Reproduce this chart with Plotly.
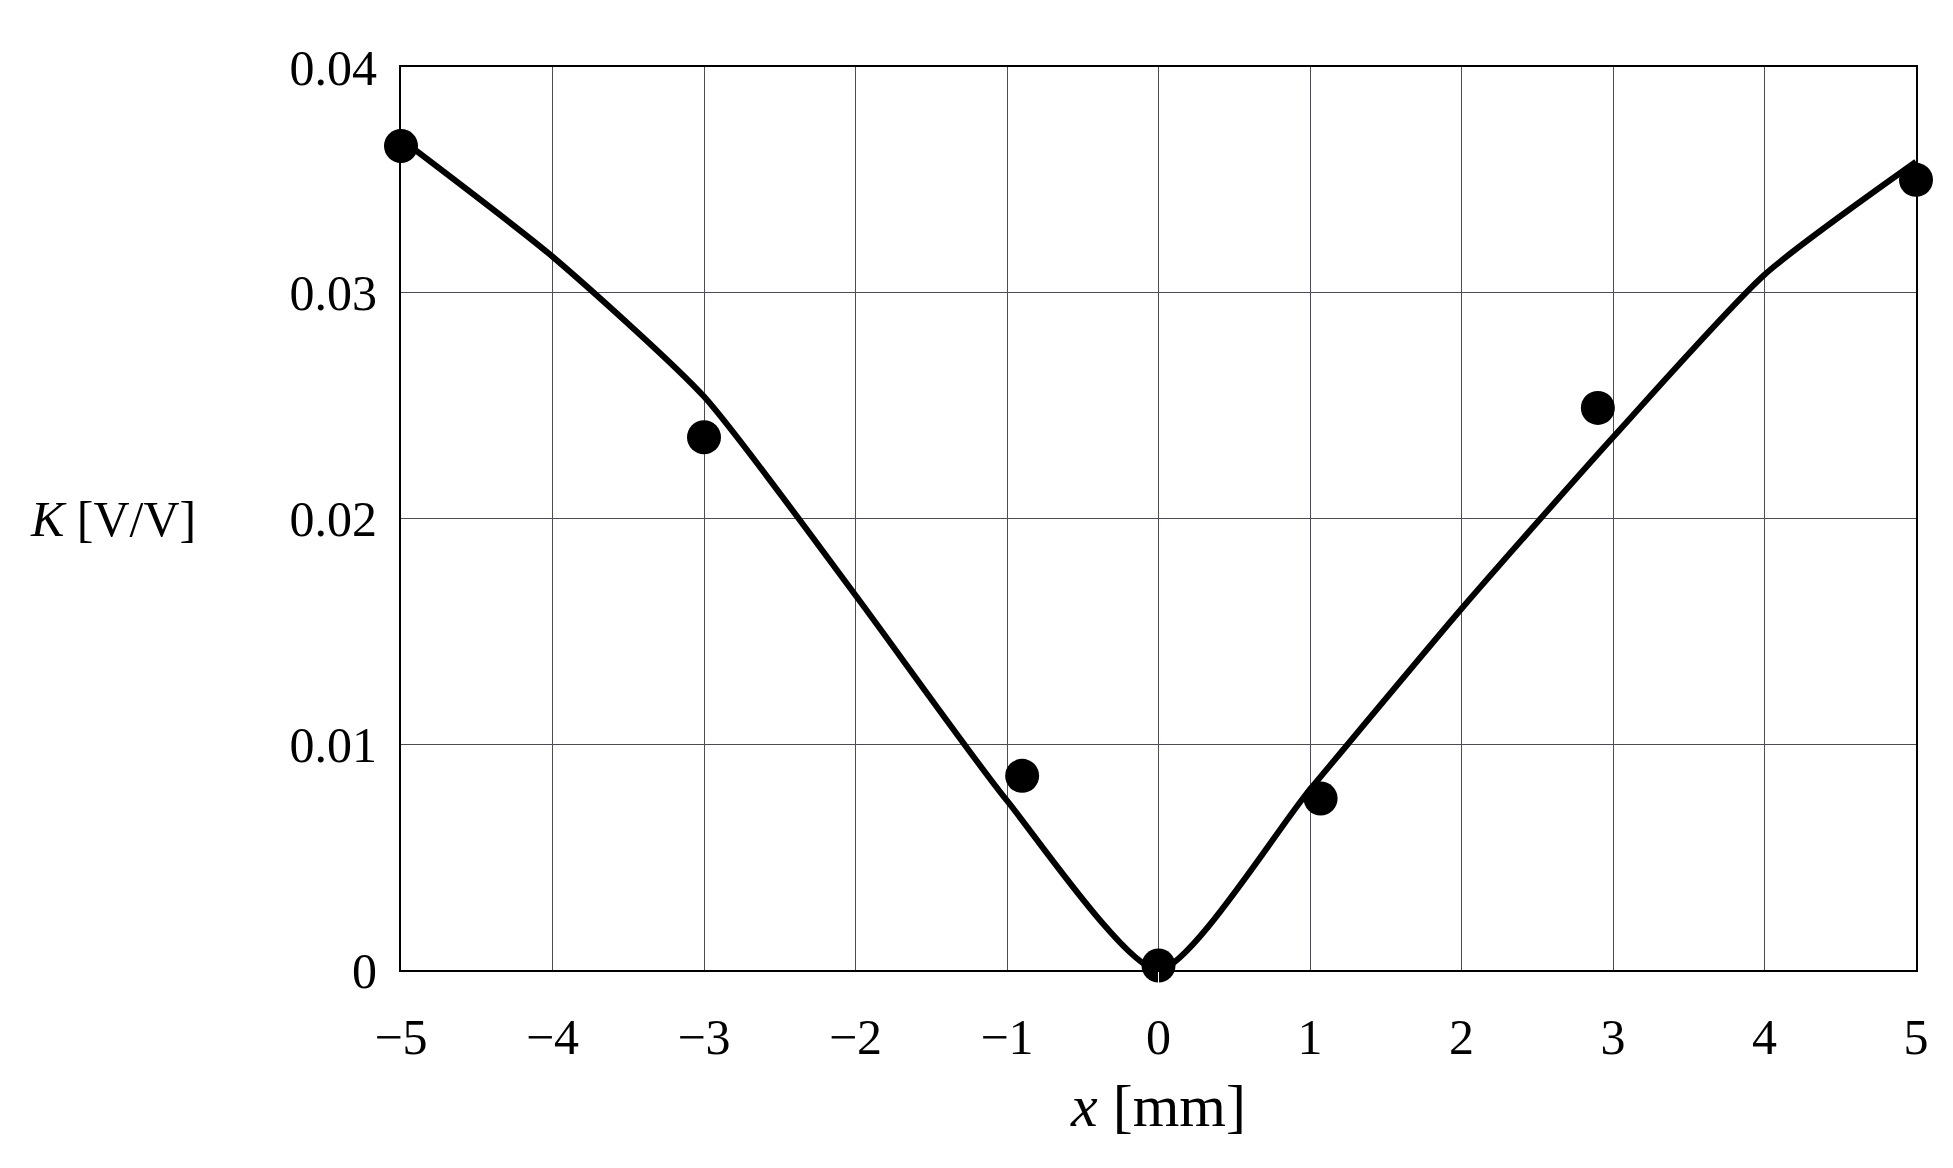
import plotly.graph_objects as go

# measured points
x_pts = [-5, -3, -0.9, 0, 1.07, 2.9, 5]
k_pts = [0.0365, 0.0236, 0.0086, 0.0002, 0.0076, 0.0249, 0.0350]

# fitted curve
x_fit = [-5, -4, -3, -2, -1, 0, 1, 2, 3, 4, 5]
k_fit = [0.0368, 0.0316, 0.0254, 0.0166, 0.0075, 0.0, 0.0080, 0.0160, 0.0236, 0.0308, 0.0358]

font = dict(family="Liberation Serif, DejaVu Serif, serif", size=50, color="black")

fig = go.Figure()
fig.add_trace(go.Scatter(x=x_fit, y=k_fit, mode='lines',
                         line=dict(color='black', width=6, shape='spline', smoothing=0.6),
                         showlegend=False))
fig.add_trace(go.Scatter(x=x_pts, y=k_pts, mode='markers',
                         marker=dict(color='black', size=34), showlegend=False,
                         cliponaxis=False))

fig.update_layout(
    width=1953, height=1168,
    plot_bgcolor='white', paper_bgcolor='white',
    font=font,
    margin=dict(l=393, r=45, t=59, b=206),
    xaxis=dict(range=[-5, 5], tickvals=list(range(-5, 6)),
               ticktext=[str(v).replace('-', '\u2212') for v in range(-5, 6)],
               showgrid=True, gridcolor='#4a4a66', gridwidth=1,
               showline=True, linecolor='black', linewidth=2, mirror=True,
               zeroline=False, ticks='outside', ticklen=22, tickcolor='white',
               title=dict(text='<i>x</i> [mm]', standoff=20)),
    yaxis=dict(range=[0, 0.04], tickvals=[0, 0.01, 0.02, 0.03, 0.04],
               ticktext=['0', '0.01', '0.02', '0.03', '0.04'],
               showgrid=True, gridcolor='#4a4a66', gridwidth=1,
               showline=True, linecolor='black', linewidth=2, mirror=True,
               zeroline=False, ticks='outside', ticklen=12, tickcolor='white'),
    annotations=[dict(text='<i>K</i> [V/V]', x=(20 - 393) / (1953 - 393 - 45), xref='paper',
                      y=0.5, yref='paper', showarrow=False, xanchor='left', font=font)],
)

fig.write_html("out.html")
